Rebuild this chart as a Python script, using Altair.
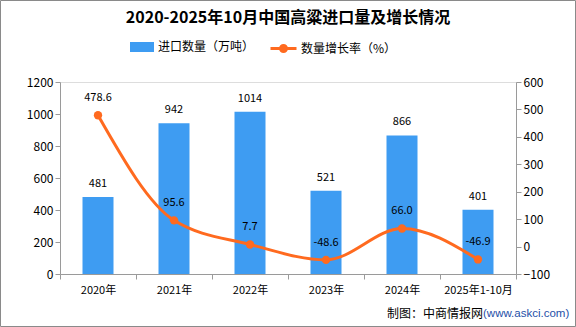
import altair as alt
import pandas as pd

categories = ["2020年", "2021年", "2022年", "2023年", "2024年", "2025年1-10月"]
quantity = [481, 942, 1014, 521, 866, 401]
growth = [478.6, 95.6, 7.7, -48.6, 66.0, -46.9]
growth_labels = ["478.6", "95.6", "7.7", "-48.6", "66.0", "-46.9"]

BAR_NAME = "进口数量（万吨）"
LINE_NAME = "数量增长率（%）"
BLUE = "#3E9CF2"
ORANGE = "#FF6A1F"
FONT = "Noto Sans CJK SC"
AXIS_GREY = "#9a9a9a"

df = pd.DataFrame({
    "cat": categories,
    "qty": quantity,
    "growth": growth,
    "glabel": growth_labels,
    "s1": [BAR_NAME] * len(categories),
    "s2": [LINE_NAME] * len(categories),
})

x_enc = alt.X(
    "cat:N", sort=categories, title=None,
    scale=alt.Scale(paddingInner=0, paddingOuter=0),
    axis=alt.Axis(labelAngle=0, tickBand="extent", domainColor=AXIS_GREY,
                  tickColor=AXIS_GREY, labelColor="#000", labelFont=FONT,
                  labelFontSize=11, labelPadding=5),
)

base = alt.Chart(df)

y1 = alt.Y("qty:Q", title=None,
           scale=alt.Scale(domain=[0, 1200], nice=False),
           axis=alt.Axis(values=[0, 200, 400, 600, 800, 1000, 1200], grid=False, format="d",
                         labelOverlap=False, domainColor=AXIS_GREY, tickColor=AXIS_GREY,
                         labelColor="#000", labelFont=FONT, labelFontSize=12,
                         orient="left"))

bars = base.mark_bar(size=31).encode(
    x=x_enc, y=y1,
    color=alt.Color("s1:N", scale=alt.Scale(domain=[BAR_NAME], range=[BLUE]),
                    legend=alt.Legend(title=None, orient="none", legendX=72, legendY=-45,
                                      symbolType="M-1.2,-0.5H1.2V0.5H-1.2Z",
                                      symbolSize=400, labelFont=FONT, labelFontSize=12,
                                      labelColor="#000", symbolStrokeWidth=0, labelOffset=6)),
)
bar_text = base.mark_text(baseline="bottom", dy=-8, font=FONT, fontSize=11, color="#000").encode(
    x=x_enc, y=y1, text=alt.Text("qty:Q"))

y2 = alt.Y("growth:Q", title=None,
           scale=alt.Scale(domain=[-100, 600], nice=False),
           axis=alt.Axis(values=[-100, 0, 100, 200, 300, 400, 500, 600], grid=False, format="d",
                         labelOverlap=False, domainColor=AXIS_GREY, tickColor=AXIS_GREY,
                         labelColor="#000", labelFont=FONT, labelFontSize=12,
                         orient="right"))

line = base.mark_line(color=ORANGE, strokeWidth=3, interpolate="monotone").encode(
    x=x_enc, y=y2)
points = base.mark_point(filled=True, size=70, opacity=1).encode(
    x=x_enc, y=y2,
    color=alt.Color("s2:N", scale=alt.Scale(domain=[LINE_NAME], range=[ORANGE]),
                    legend=alt.Legend(title=None, orient="none", legendX=212, legendY=-45,
                                      symbolType="M-1.3,0H1.3M0.3,0A0.3,0.3 0 1,1 -0.3,0A0.3,0.3 0 1,1 0.3,0",
                                      symbolSize=400, symbolStrokeWidth=3,
                                      symbolStrokeColor=ORANGE, symbolFillColor=ORANGE,
                                      labelFont=FONT, labelFontSize=12, labelColor="#000",
                                      labelOffset=6)),
)
line_text = base.mark_text(baseline="bottom", dy=-12, font=FONT, fontSize=11, color="#000").encode(
    x=x_enc, y=y2, text="glabel:N")

anno = pd.DataFrame({"a": [1]})
src1 = alt.Chart(anno).mark_text(text="制图：中商情报网", font=FONT, fontSize=12, color="#000",
                                 align="right", baseline="middle").encode(x=alt.value(423), y=alt.value(232))
src2 = alt.Chart(anno).mark_text(text="(www.askci.com)", font="Liberation Sans", fontSize=11.5,
                                 color="#1f4fa8", align="left", baseline="middle").encode(
    x=alt.value(423), y=alt.value(232))
border = alt.Chart(anno).mark_rect(fill=None, stroke="#8a8a8a", strokeWidth=1).encode(
    x=alt.value(-59.5), x2=alt.value(515.5), y=alt.value(-81.5), y2=alt.value(244.5))

left = alt.layer(bars, bar_text)
right = alt.layer(line, points, line_text)

chart = alt.layer(left, right, src1, src2, border).resolve_scale(
    y="independent", color="independent"
).properties(
    width=456, height=192,
    autosize=alt.AutoSizeParams(type="none"),
    padding={"left": 60, "top": 82, "right": 60, "bottom": 53},
    title=alt.TitleParams("2020-2025年10月中国高粱进口量及增长情况", font=FONT, fontSize=16,
                          fontWeight="bold", color="#000", anchor="middle", offset=-26),
).configure_view(stroke=None).configure(background="white")

chart.save("out.html", embed_options={"renderer": "svg", "actions": False})
